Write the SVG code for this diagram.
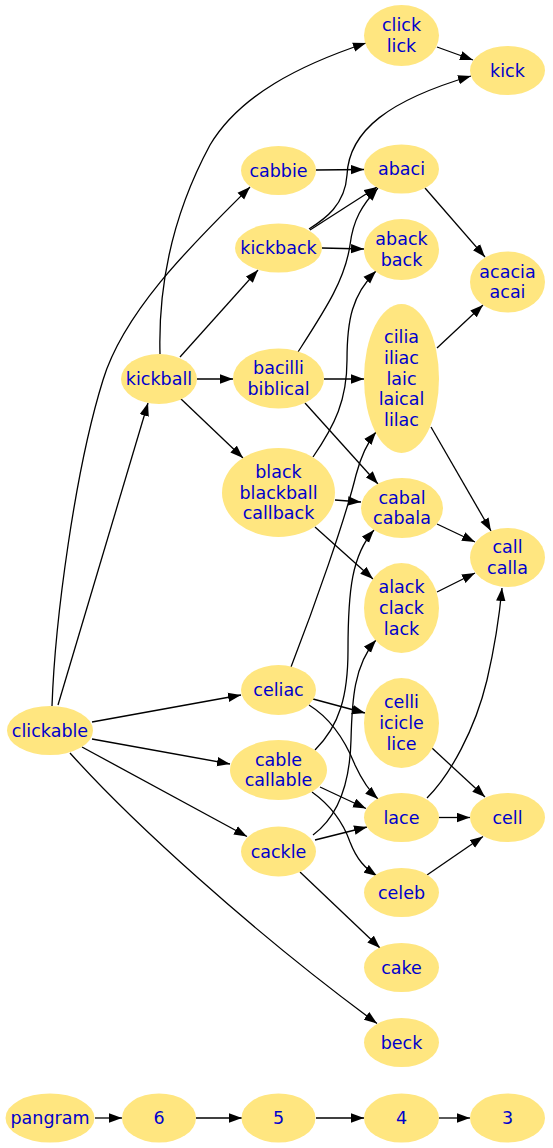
<svg xmlns="http://www.w3.org/2000/svg" width="553" height="1148" viewBox="0 0 553 1148">
<style>
ellipse{fill:#ffe680;stroke:none}
text{font-family:"DejaVu Sans","Liberation Sans",sans-serif;font-size:17.5px;fill:#0000cc;text-anchor:middle}
.e path{fill:none;stroke:#000;stroke-width:1.3;marker-end:url(#ah)}
</style>
<defs>
<marker id="ah" viewBox="0 0 13 10" refX="13" refY="5" markerWidth="13" markerHeight="10" markerUnits="userSpaceOnUse" orient="auto">
<path d="M0,0.3 L13,5 L0,9.7 z" fill="#000"/>
</marker>
</defs>
<rect width="553" height="1148" fill="#fff"/>
<g class="e" id="edges">
<path d="M160,354 C158,280 175,210 210,145 C240,95 300,65 366,43"/>
<path d="M52,706 C55,620 75,470 103,380 C125,308 200,237 250,187"/>
<path d="M58,705 L148,403"/>
<path d="M92,722 L241,695"/>
<path d="M92,739 L230,764"/>
<path d="M82,747 L247,836.5"/>
<path d="M70,753 C130,820 250,930 377,1023.5"/>
<path d="M180,357 L258,270"/>
<path d="M197,379 L233,379"/>
<path d="M180,398 L243,458"/>
<path d="M316,170 L364,169.5"/>
<path d="M310,230 L377,187"/>
<path d="M309,229 C325,219 345,205 347,175 C349,130 390,100 471,76"/>
<path d="M322,248 L364,249"/>
<path d="M298,352 C325,310 345,280 350,245 C353,220 362,205 378,188"/>
<path d="M324,379 L364,379"/>
<path d="M305,403 L378,484"/>
<path d="M313,457 C335,425 347,400 347,360 C347,320 352,295 376,271"/>
<path d="M335,500 L361,502"/>
<path d="M315,527 L373,579"/>
<path d="M425,188 L485,257"/>
<path d="M437,47 L473,60"/>
<path d="M437,348 L483,305"/>
<path d="M431,427 L491,531"/>
<path d="M437,524 L475,542"/>
<path d="M437,592 L475,573"/>
<path d="M291,667 C315,605 345,520 356,475 C361,456 367,443 376,432"/>
<path d="M313,699 L365,713"/>
<path d="M309,705 C330,718 345,740 355,765 C362,780 368,790 378,799"/>
<path d="M315,750 C340,725 348,695 348,650 C348,590 352,555 374,530"/>
<path d="M320,787 L366,808.5"/>
<path d="M312,792 C330,805 343,822 350,842 C357,860 365,868 377,876"/>
<path d="M313,835 C340,815 350,780 351,740 C352,700 354,665 376,640"/>
<path d="M315,840 L367,827"/>
<path d="M300,872 L380,948"/>
<path d="M439,817.5 L470,817.5"/>
<path d="M427,798 C450,775 475,730 487,680 C494,650 499,620 502,588"/>
<path d="M432,748 L485,797"/>
<path d="M427,875 L483,836.5"/>
<path d="M95,1118 L122,1118"/>
<path d="M196,1118 L242,1118"/>
<path d="M316,1118 L364,1118"/>
<path d="M439,1118 L470,1118"/>
</g>
<g id="n-clicklick"><ellipse cx="401.5" cy="35.5" rx="37.5" ry="30.5"/><text x="401.5" y="31.2">click</text><text x="401.5" y="51.9">lick</text></g>
<g id="n-kick"><ellipse cx="507.5" cy="70.5" rx="37.5" ry="24.5"/><text x="507.5" y="76.5">kick</text></g>
<g id="n-cabbie"><ellipse cx="278.5" cy="170.5" rx="37.5" ry="24.5"/><text x="278.5" y="176.5">cabbie</text></g>
<g id="n-abaci"><ellipse cx="401.5" cy="169" rx="37.5" ry="24.5"/><text x="401.5" y="175">abaci</text></g>
<g id="n-kickback"><ellipse cx="278.5" cy="248" rx="43.5" ry="24.5"/><text x="278.5" y="254">kickback</text></g>
<g id="n-abackback"><ellipse cx="401.5" cy="249.5" rx="37.5" ry="30.5"/><text x="401.5" y="245.2">aback</text><text x="401.5" y="265.9">back</text></g>
<g id="n-acacia"><ellipse cx="507.5" cy="282" rx="37.5" ry="30.5"/><text x="507.5" y="277.7">acacia</text><text x="507.5" y="298.4">acai</text></g>
<g id="n-kickball"><ellipse cx="159" cy="379" rx="38" ry="25"/><text x="159" y="385">kickball</text></g>
<g id="n-bacilli"><ellipse cx="278.5" cy="378.5" rx="45.5" ry="30"/><text x="278.5" y="374.2">bacilli</text><text x="278.5" y="394.9">biblical</text></g>
<g id="n-cilia"><ellipse cx="401.5" cy="378.5" rx="37.5" ry="74.5"/><text x="401.5" y="343.1">cilia</text><text x="401.5" y="363.8">iliac</text><text x="401.5" y="384.5">laic</text><text x="401.5" y="405.2">laical</text><text x="401.5" y="425.9">lilac</text></g>
<g id="n-black"><ellipse cx="278.5" cy="492.5" rx="56.5" ry="44.5"/><text x="278.5" y="477.8">black</text><text x="278.5" y="498.5">blackball</text><text x="278.5" y="519.2">callback</text></g>
<g id="n-cabal"><ellipse cx="402" cy="508" rx="41" ry="30"/><text x="402" y="503.7">cabal</text><text x="402" y="524.4">cabala</text></g>
<g id="n-call"><ellipse cx="507.5" cy="557.5" rx="37.5" ry="29.5"/><text x="507.5" y="553.2">call</text><text x="507.5" y="573.9">calla</text></g>
<g id="n-alack"><ellipse cx="401.5" cy="608" rx="37.5" ry="45"/><text x="401.5" y="593.3">alack</text><text x="401.5" y="614">clack</text><text x="401.5" y="634.7">lack</text></g>
<g id="n-clickable"><ellipse cx="50" cy="730.5" rx="43" ry="24.5"/><text x="50" y="736.5">clickable</text></g>
<g id="n-celiac"><ellipse cx="278.5" cy="690" rx="37.5" ry="25"/><text x="278.5" y="696">celiac</text></g>
<g id="n-celli"><ellipse cx="401.5" cy="723" rx="37.5" ry="45"/><text x="401.5" y="708.3">celli</text><text x="401.5" y="729">icicle</text><text x="401.5" y="749.7">lice</text></g>
<g id="n-cable"><ellipse cx="278.5" cy="770" rx="48.5" ry="30"/><text x="278.5" y="765.7">cable</text><text x="278.5" y="786.4">callable</text></g>
<g id="n-lace"><ellipse cx="401.5" cy="817.5" rx="37.5" ry="24.5"/><text x="401.5" y="823.5">lace</text></g>
<g id="n-cell"><ellipse cx="507.5" cy="817.5" rx="37.5" ry="24.5"/><text x="507.5" y="823.5">cell</text></g>
<g id="n-cackle"><ellipse cx="278.5" cy="851.5" rx="37.5" ry="25"/><text x="278.5" y="857.5">cackle</text></g>
<g id="n-celeb"><ellipse cx="401.5" cy="892.5" rx="37.5" ry="24.5"/><text x="401.5" y="898.5">celeb</text></g>
<g id="n-cake"><ellipse cx="401.5" cy="967.5" rx="37.5" ry="24.5"/><text x="401.5" y="973.5">cake</text></g>
<g id="n-beck"><ellipse cx="401.5" cy="1042.5" rx="37.5" ry="24.5"/><text x="401.5" y="1048.5">beck</text></g>
<g id="n-pangram"><ellipse cx="50" cy="1118" rx="44.5" ry="24.5"/><text x="50" y="1124">pangram</text></g>
<g id="n-6"><ellipse cx="159" cy="1118" rx="37" ry="24.5"/><text x="159" y="1124">6</text></g>
<g id="n-5"><ellipse cx="278.5" cy="1118" rx="37" ry="24.5"/><text x="278.5" y="1124">5</text></g>
<g id="n-4"><ellipse cx="401.5" cy="1118" rx="37.5" ry="24.5"/><text x="401.5" y="1124">4</text></g>
<g id="n-3"><ellipse cx="507.5" cy="1118" rx="37.5" ry="24.5"/><text x="507.5" y="1124">3</text></g>
</svg>
